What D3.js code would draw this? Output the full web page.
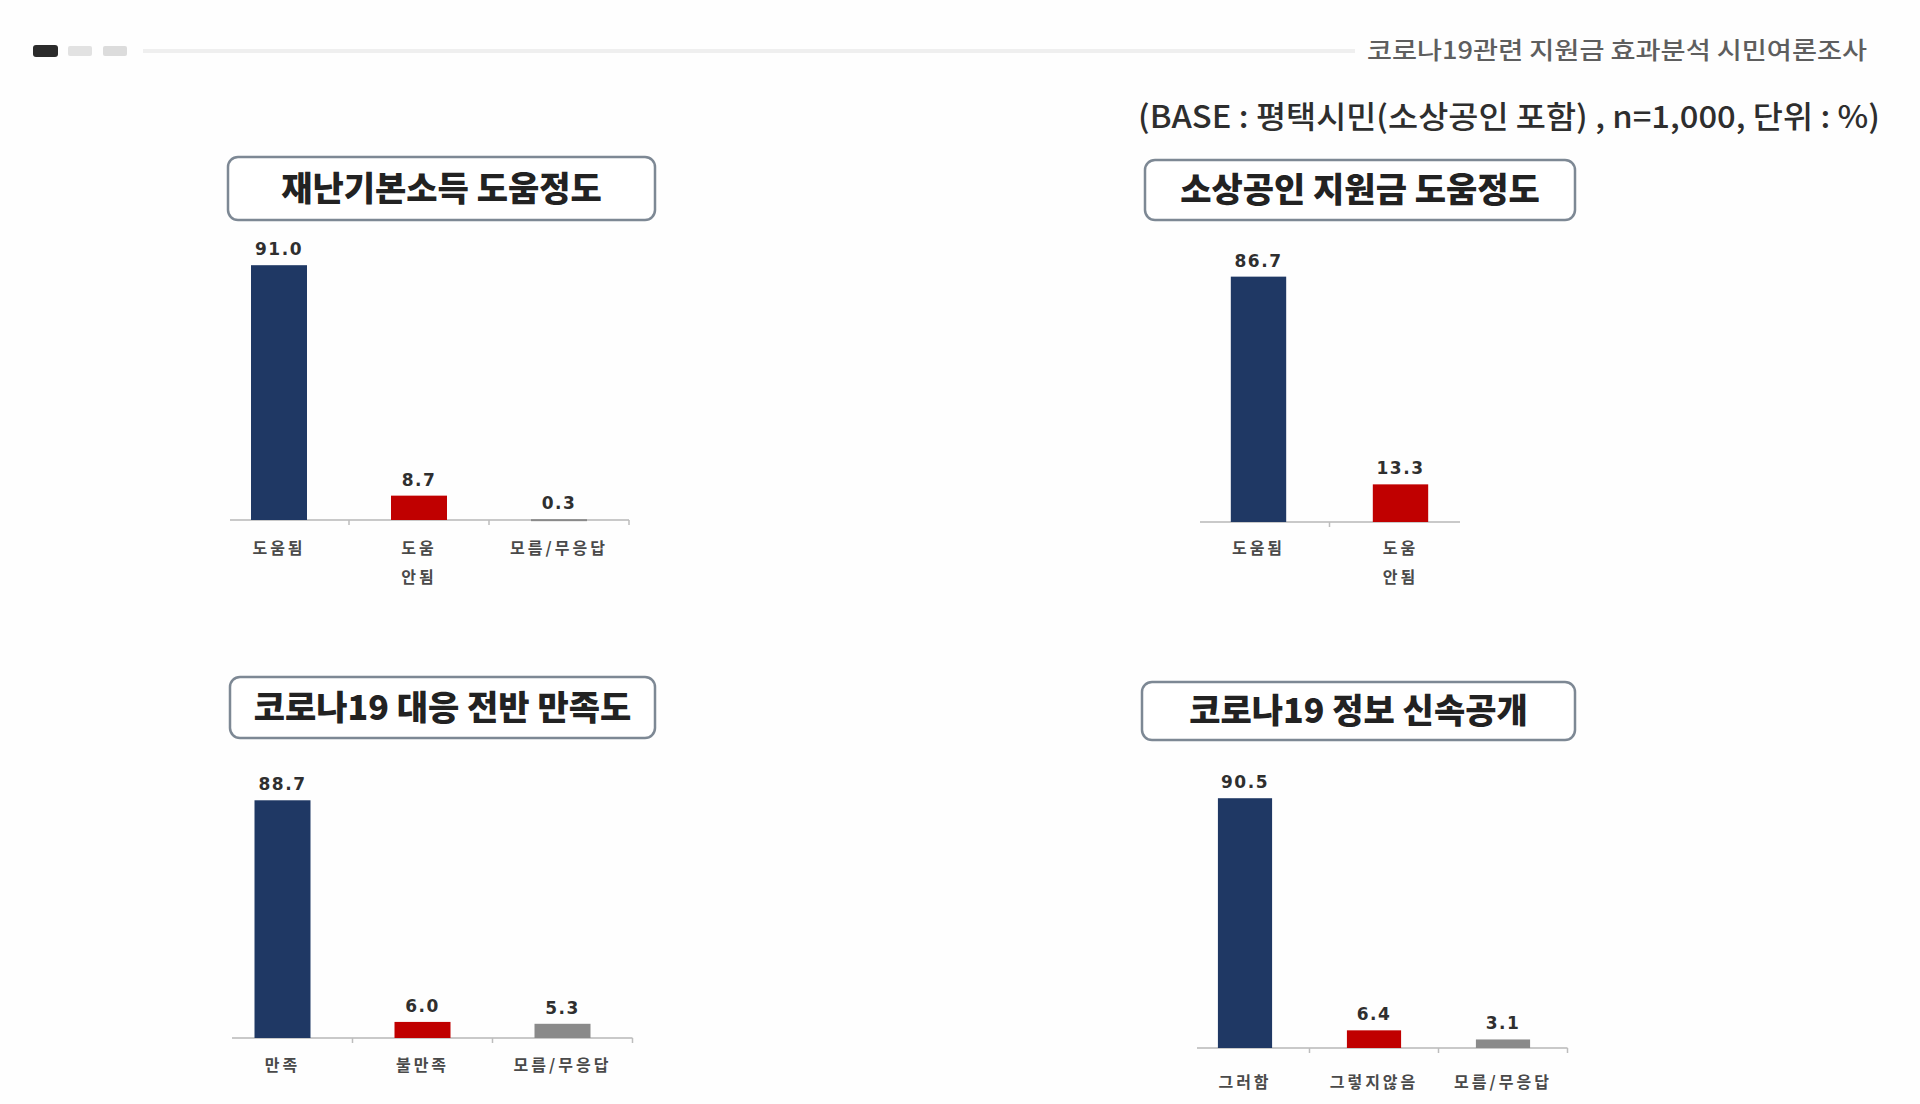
<!DOCTYPE html>
<html>
<head>
<meta charset="utf-8">
<script src="https://cdn.jsdelivr.net/npm/d3@7"></script>
<style>
  body { margin: 0; background: #fff; }
  svg { display: block; }
</style>
</head>
<body>
<div id="viz"></div>
<script>
// data
const headerTitle = "코로나19관련 지원금 효과분석 시민여론조사";
const baseNote = "(BASE : 평택시민(소상공인 포함) , n=1,000, 단위 : %)";

const titles = ["재난기본소득 도움정도", "소상공인 지원금 도움정도", "코로나19 대응 전반 만족도", "코로나19 정보 신속공개"];

const categories1 = ["도움됨", "도움\n안됨", "모름/무응답"];
const values1 = [91.0, 8.7, 0.3];

const categories2 = ["도움됨", "도움\n안됨"];
const values2 = [86.7, 13.3];

const categories3 = ["만족", "불만족", "모름/무응답"];
const values3 = [88.7, 6.0, 5.3];

const categories4 = ["그러함", "그렇지않음", "모름/무응답"];
const values4 = [90.5, 6.4, 3.1];

const barColors = ["#1f3864", "#c00000", "#8a8a8a"];

// layout of each panel (pixels)
const panels = [
  { cats: categories1, vals: values1, title: titles[0],
    box: [228, 157, 427, 63], band: [209, 629], lineStart: 230, base: 520, plotH: 280, inner: 0.6, labelY: 548 },
  { cats: categories2, vals: values2, title: titles[1],
    box: [1145, 160, 430, 60], band: [1187.5, 1471.5], lineStart: 1200, lineEnd: 1460, base: 522, plotH: 283, inner: 0.61, labelY: 548 },
  { cats: categories3, vals: values3, title: titles[2],
    box: [230, 677, 425, 61], band: [212.5, 632.5], lineStart: 232, base: 1038, plotH: 268, inner: 0.6, labelY: 1065 },
  { cats: categories4, vals: values4, title: titles[3],
    box: [1142, 682, 433, 58], band: [1180.5, 1567.5], lineStart: 1197, base: 1048, plotH: 276, inner: 0.58, labelY: 1082 }
];

const width = 1920, height = 1104;
const korean = "'Noto Sans CJK KR', 'Noto Sans', sans-serif";

const svg = d3.select("#viz")
  .append("svg")
  .attr("width", width)
  .attr("height", height);

svg.append("rect").attr("width", width).attr("height", height).attr("fill", "#fefefe");

// header
const header = svg.append("g");
header.append("rect").attr("x", 33).attr("y", 45).attr("width", 25).attr("height", 12).attr("rx", 3).attr("fill", "#2b2b2b");
header.append("rect").attr("x", 68).attr("y", 46).attr("width", 24).attr("height", 10).attr("rx", 2).attr("fill", "#e2e2e2");
header.append("rect").attr("x", 103).attr("y", 46).attr("width", 24).attr("height", 10).attr("rx", 2).attr("fill", "#dcdcdc");
header.append("line")
  .attr("x1", 143).attr("x2", 1355).attr("y1", 51).attr("y2", 51)
  .attr("stroke", "#efefef").attr("stroke-width", 4);
header.append("text")
  .attr("x", 1867).attr("y", 59)
  .attr("text-anchor", "end")
  .attr("font-family", korean)
  .attr("font-size", 24)
  .attr("font-weight", 500)
  .attr("fill", "#5e5e5e")
  .attr("textLength", 500)
  .attr("lengthAdjust", "spacingAndGlyphs")
  .text(headerTitle);
header.append("text")
  .attr("x", 1880).attr("y", 128)
  .attr("text-anchor", "end")
  .attr("font-family", korean)
  .attr("font-size", 31)
  .attr("font-weight", 500)
  .attr("fill", "#2e2e2e")
  .attr("textLength", 742)
  .attr("lengthAdjust", "spacingAndGlyphs")
  .text(baseNote);

panels.forEach(p => {
  const g = svg.append("g");

  // title box
  const [bx, by, bw, bh] = p.box;
  g.append("rect")
    .attr("x", bx).attr("y", by).attr("width", bw).attr("height", bh)
    .attr("rx", 10)
    .attr("fill", "#fff")
    .attr("stroke", "#7d8894")
    .attr("stroke-width", 2.5);
  g.append("text")
    .attr("x", bx + bw / 2).attr("y", by + bh / 2 + 12)
    .attr("text-anchor", "middle")
    .attr("font-family", korean)
    .attr("font-weight", 900)
    .attr("font-size", 34)
    .attr("fill", "#222")
    .text(p.title);

  // scales
  const xScale = d3.scaleBand()
    .domain(p.cats)
    .range(p.band)
    .paddingInner(p.inner)
    .paddingOuter(p.inner / 2);
  const yScale = d3.scaleLinear()
    .domain([0, 100])
    .range([p.base, p.base - p.plotH]);

  const step = xScale.step();
  const bw2 = xScale.bandwidth();

  // axis line and ticks
  const lineEnd = p.lineEnd || p.band[1];
  g.append("line")
    .attr("x1", p.lineStart).attr("x2", lineEnd)
    .attr("y1", yScale(0)).attr("y2", yScale(0))
    .attr("stroke", "#c9c9c9").attr("stroke-width", 2);
  const tickXs = p.cats.map(c => xScale(c) + bw2 / 2 + step / 2).filter(x => x <= lineEnd + 1);
  g.selectAll(".tick")
    .data(tickXs)
    .enter()
    .append("line")
    .attr("x1", d => d).attr("x2", d => d)
    .attr("y1", yScale(0)).attr("y2", yScale(0) + 5)
    .attr("stroke", "#bdbdbd").attr("stroke-width", 1.5);

  // bars
  g.selectAll(".bar")
    .data(p.vals)
    .enter()
    .append("rect")
    .attr("x", (d, i) => xScale(p.cats[i]))
    .attr("y", d => yScale(d))
    .attr("width", bw2)
    .attr("height", d => Math.max(2, yScale(0) - yScale(d)))
    .attr("fill", (d, i) => barColors[i]);

  // value labels
  g.selectAll(".val")
    .data(p.vals)
    .enter()
    .append("text")
    .attr("x", (d, i) => xScale(p.cats[i]) + bw2 / 2)
    .attr("y", d => yScale(d) - 10)
    .attr("text-anchor", "middle")
    .attr("font-family", "'DejaVu Sans', sans-serif")
    .attr("font-weight", 700)
    .attr("font-size", 17)
    .attr("letter-spacing", 1.5)
    .attr("fill", "#2f2f2f")
    .text(d => d.toFixed(1));

  // category labels
  const cl = g.selectAll(".cat")
    .data(p.cats)
    .enter()
    .append("text")
    .attr("x", d => xScale(d) + bw2 / 2)
    .attr("y", p.labelY + 6)
    .attr("text-anchor", "middle")
    .attr("font-family", korean)
    .attr("font-weight", 700)
    .attr("font-size", 16)
    .attr("letter-spacing", 3)
    .attr("fill", "#4a4a4a");
  cl.selectAll("tspan")
    .data(d => d.split("\n").map(s => ({ s, x: xScale(d) + bw2 / 2 })))
    .enter()
    .append("tspan")
    .attr("x", d => d.x)
    .attr("dy", (d, i) => i === 0 ? 0 : 29)
    .text(d => d.s);
});
</script>
</body>
</html>
